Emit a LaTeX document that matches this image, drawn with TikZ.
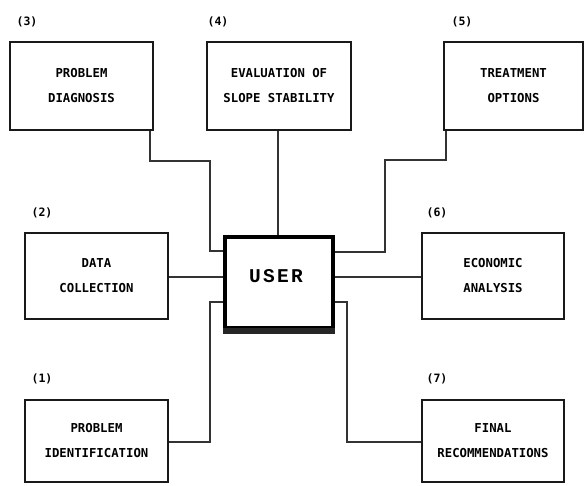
\documentclass[tikz,border=0pt]{standalone}
\usepackage{fontspec}
\newfontfamily\boxfont{DejaVu Sans Mono}
\newfontfamily\userfont[LetterSpace=12]{Liberation Mono Bold}
\begin{document}
\begin{tikzpicture}[x=1pt,y=-1pt,
  box/.style={draw=black!90,line width=2.6pt,fill=white,inner sep=0pt,
    align=center,font=\boxfont\bfseries\fontsize{12.3}{25}\selectfont},
  num/.style={font=\boxfont\bfseries\fontsize{11.5}{12}\selectfont,inner sep=0pt},
  conn/.style={draw=black!80,line width=1.3pt,line join=miter}]
\useasboundingbox (0,0) rectangle (584,485);
% boxes
\node[box,minimum width=143pt,minimum height=88pt] (b3) at (81.5,86) {PROBLEM\\DIAGNOSIS};
\node[box,minimum width=144pt,minimum height=88pt] (b4) at (279,86) {EVALUATION OF\\SLOPE STABILITY};
\node[box,minimum width=139pt,minimum height=88pt] (b5) at (513.5,86) {TREATMENT\\OPTIONS};
\node[box,minimum width=143pt,minimum height=86pt] (b2) at (96.5,276) {DATA\\COLLECTION};
\node[box,minimum width=142pt,minimum height=86pt] (b6) at (493,276) {ECONOMIC\\ANALYSIS};
\node[box,minimum width=143pt,minimum height=82pt] (b1) at (96.5,441) {PROBLEM\\IDENTIFICATION};
\node[box,minimum width=142pt,minimum height=82pt] (b7) at (493,441) {FINAL\\RECOMMENDATIONS};
\node[draw=black,line width=3.4pt,fill=white,minimum width=108pt,minimum height=91pt,inner sep=0pt]
  (user) at (279,282.5) {};
\node[inner sep=0pt,font=\userfont\fontsize{19.5}{20}\selectfont] (ut) at (276,276) {USER};
\fill[black!85] ([yshift=1.7pt]user.south west) rectangle ([yshift=-4.5pt]user.south east);
% numbers
\node[num] (n3) at (27,22) {(3)};
\node[num] (n4) at (218,22) {(4)};
\node[num] (n5) at (462,22) {(5)};
\node[num] (n2) at (42,213) {(2)};
\node[num] (n6) at (437,213) {(6)};
\node[num] (n1) at (42,379) {(1)};
\node[num] (n7) at (437,379) {(7)};
% bend points
\coordinate (k3a) at (150,161);
\coordinate (k3b) at (210,161);
\coordinate (k3c) at (210,251);
\coordinate (k5a) at (446,160);
\coordinate (k5b) at (385,160);
\coordinate (k5c) at (385,252);
\coordinate (k1a) at (210,302);
\coordinate (k1b) at (210,442);
\coordinate (k7a) at (347,302);
\coordinate (k7b) at (347,442);
\coordinate (m4) at (278,0);
\coordinate (m2) at (0,277);
% connectors
\draw[conn] (k3a |- b3.south) -- (k3a) -- (k3b) -- (k3c) -- (k3c -| user.west);
\draw[conn] (m4 |- b4.south) -- (m4 |- user.north);
\draw[conn] (k5a |- b5.south) -- (k5a) -- (k5b) -- (k5c) -- (k5c -| user.east);
\draw[conn] (m2 -| b2.east) -- (m2 -| user.west);
\draw[conn] (m2 -| user.east) -- (m2 -| b6.west);
\draw[conn] (k1a -| user.west) -- (k1a) -- (k1b) -- (k1b -| b1.east);
\draw[conn] (k7a -| user.east) -- (k7a) -- (k7b) -- (k7b -| b7.west);
\end{tikzpicture}
\end{document}
